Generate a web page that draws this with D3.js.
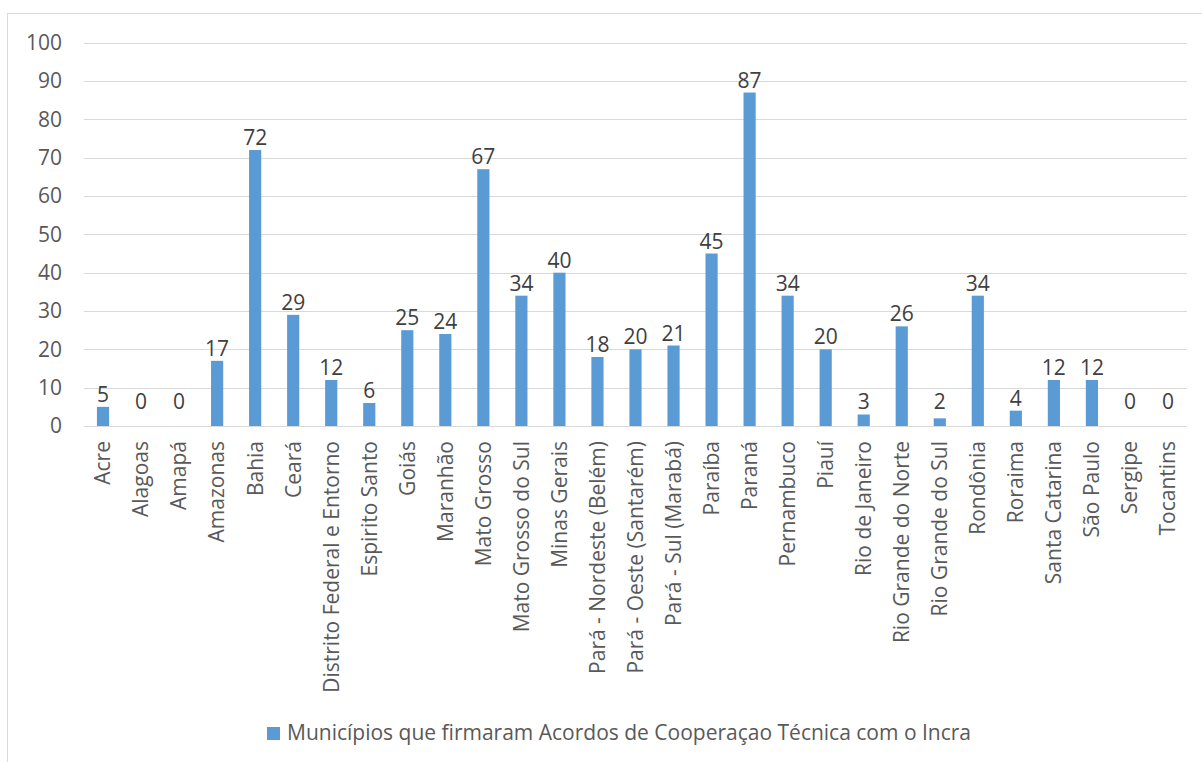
<!DOCTYPE html>
<html>
<head>
<meta charset="utf-8">
<script src="https://cdn.jsdelivr.net/npm/d3@7/dist/d3.min.js"></script>
<style>
  html, body { margin: 0; padding: 0; background: #fff; }
  svg { display: block; font-family: "Open Sans", sans-serif; }
</style>
</head>
<body>
<svg id="chart" width="1202" height="762"></svg>
<script>
// Municípios por superintendência regional
const categories = [
  "Acre", "Alagoas", "Amapá", "Amazonas", "Bahia", "Ceará",
  "Distrito Federal e Entorno", "Espirito Santo", "Goiás", "Maranhão",
  "Mato Grosso", "Mato Grosso do Sul", "Minas Gerais",
  "Pará - Nordeste (Belém)", "Pará - Oeste (Santarém)", "Pará - Sul (Marabá)",
  "Paraíba", "Paraná", "Pernambuco", "Piauí", "Rio de Janeiro",
  "Rio Grande do Norte", "Rio Grande do Sul", "Rondônia", "Roraima",
  "Santa Catarina", "São Paulo", "Sergipe", "Tocantins"
];
const values = [
  5, 0, 0, 17, 72, 29, 12, 6, 25, 24, 67, 34, 40, 18, 20, 21,
  45, 87, 34, 20, 3, 26, 2, 34, 4, 12, 12, 0, 0
];
const yTicks = [0, 10, 20, 30, 40, 50, 60, 70, 80, 90, 100];
const seriesName = "Municípios que firmaram Acordos de Cooperaçao Técnica com o Incra";

const FONT = "21px";
const svg = d3.select("#chart");

// chart area frame
svg.append("rect")
  .attr("x", 7.5).attr("y", 13.5)
  .attr("width", 1210).attr("height", 770)
  .attr("fill", "#fff").attr("stroke", "#d9d9d9").attr("stroke-width", 1);

const plot = { left: 84, right: 1187, top: 42.7, bottom: 426 };

const x = d3.scaleBand()
  .domain(categories)
  .range([plot.left, plot.right])
  .paddingInner(0.68)
  .paddingOuter(0.34);

const y = d3.scaleLinear()
  .domain([0, 100])
  .range([plot.bottom, plot.top]);

// gridlines
svg.append("g")
  .selectAll("line")
  .data(yTicks)
  .join("line")
  .attr("x1", plot.left).attr("x2", plot.right)
  .attr("y1", d => Math.round(y(d)) + 0.5)
  .attr("y2", d => Math.round(y(d)) + 0.5)
  .attr("stroke", "#d9d9d9").attr("stroke-width", 1);

// y axis labels
const yAxis = d3.axisLeft(y).tickValues(yTicks).tickSize(0).tickPadding(0);
svg.append("g")
  .attr("transform", `translate(62,0)`)
  .call(yAxis)
  .call(g => g.select(".domain").remove())
  .call(g => g.selectAll("text")
    .attr("fill", "#595959")
    .style("font-size", FONT)
    .style("font-family", "'Open Sans', sans-serif"));

// bars
svg.append("g")
  .selectAll("rect")
  .data(values)
  .join("rect")
  .attr("x", (d, i) => x(categories[i]))
  .attr("width", x.bandwidth())
  .attr("y", d => y(d))
  .attr("height", d => y(0) - y(d))
  .attr("fill", "#5b9bd5");

// value labels
svg.append("g")
  .selectAll("text")
  .data(values)
  .join("text")
  .attr("x", (d, i) => x(categories[i]) + x.bandwidth() / 2)
  .attr("y", d => Math.min(y(d), y(0) - 12) - 5)
  .attr("text-anchor", "middle")
  .attr("fill", "#404040")
  .style("font-size", FONT)
  .text(d => d);

// category labels, rotated
const xAxis = d3.axisBottom(x).tickSize(0).tickPadding(0);
svg.append("g")
  .attr("transform", `translate(0,${plot.bottom})`)
  .call(xAxis)
  .call(g => g.select(".domain").remove())
  .call(g => g.selectAll("text")
    .attr("fill", "#595959")
    .style("font-size", FONT)
    .style("font-family", "'Open Sans', sans-serif")
    .attr("text-anchor", "end")
    .attr("dy", "0.35em")
    .attr("transform", "translate(0,15) rotate(-90)")
    .attr("x", 0).attr("y", 0));

// legend
const legend = svg.append("g").attr("transform", "translate(267,740)");
legend.append("rect")
  .attr("x", 0).attr("y", -13)
  .attr("width", 13).attr("height", 13)
  .attr("fill", "#5b9bd5");
legend.append("text")
  .attr("x", 20).attr("y", 0)
  .attr("fill", "#595959")
  .style("font-size", FONT)
  .text(seriesName);
</script>
</body>
</html>
